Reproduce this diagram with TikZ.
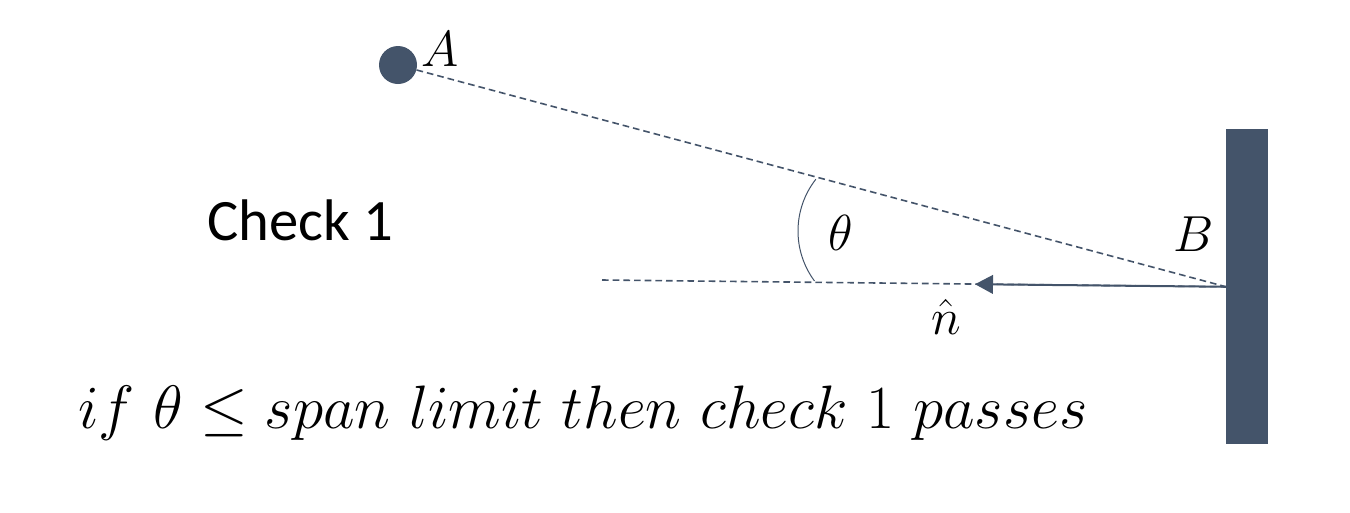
\documentclass[tikz,border=0pt]{standalone}
\usepackage{fix-cm}
\usepackage{amsmath}
\usepackage{amssymb}
\usepackage{fontspec}
\newfontfamily\calibri{Carlito}
\usepackage{tikz}
\usetikzlibrary{arrows.meta}
\usetikzlibrary{positioning}
\definecolor{slate}{HTML}{44546A}

\begin{document}
\begin{tikzpicture}[x=0.75pt,y=-0.75pt,
    dashline/.style={draw=slate,line width=1.2pt,dash pattern=on 5pt off 3pt},
    biglabel/.style={inner sep=0pt,font=\fontsize{38}{44}\selectfont}]
    \useasboundingbox (0,0) rectangle (1350,512);

    % point A and the wall
    \node[circle,fill=slate,minimum size=28.5pt,inner sep=0pt] (A) at (398,65) {};
    \node[anchor=north west,fill=slate,minimum width=31.5pt,minimum height=236.25pt,inner sep=0pt] (wall) at (1226,129) {};
    \coordinate (L) at (602,280);
    \coordinate (N) at (975,284.2);

    \draw[dashline] (A) -- (wall.west);
    \draw[dashline] (L) -- (wall.west);
    \draw[draw=slate,line width=1.5pt,-{Triangle[length=13.5pt,width=14pt]}] (wall.west) -- (N);
    \draw[slate,line width=0.75pt] ([shift={(218:84)}]882,231) arc[start angle=218,end angle=143.5,radius=84];

    \node[biglabel] (labA) at (440,49) {$A$};
    \node[biglabel] (labB) at (1194,234) {$B$};
    \node[biglabel] (theta) at (841,233) {$\theta$};
    \node[biglabel] (nhat) at (946,317) {$\hat{n}$};

    \node[inner sep=0pt,font=\calibri\fontsize{44}{50}\selectfont] (check) at (300,220) {Check 1};
    \node[inner sep=0pt,font=\fontsize{46}{52}\selectfont] (rule) at (583,413) {$if\ \theta\leq span\ limit\ then\ check\ 1\ passes$};
\end{tikzpicture}
\end{document}
